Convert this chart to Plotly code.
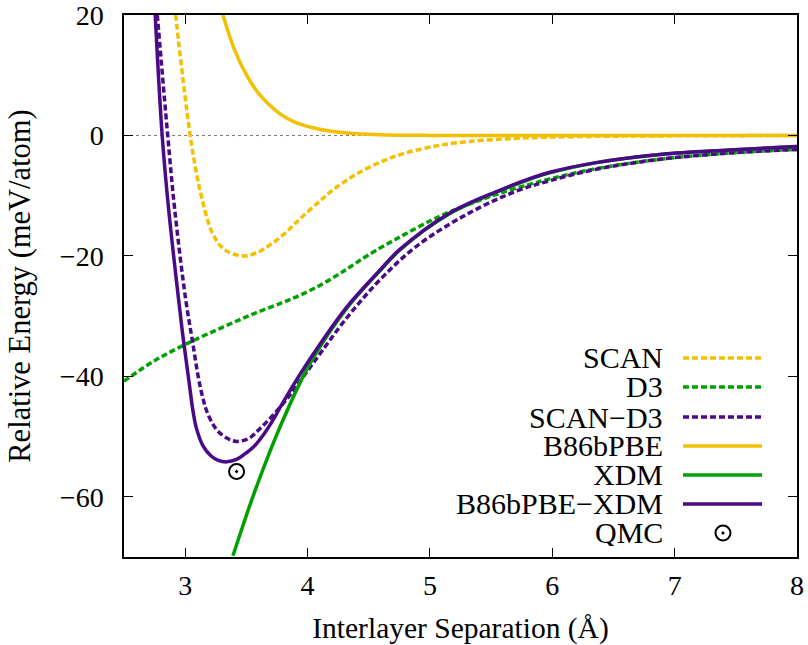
import plotly.graph_objects as go

# Interlayer binding curves (energy in meV/atom vs separation in Angstrom)
scan_x = [2.9225, 2.947, 3.0408, 3.09, 3.1387, 3.2202, 3.318, 3.473, 3.58, 3.69, 3.80, 3.88,
          3.94, 4.10, 4.21, 4.40, 4.62, 4.80, 5.02, 5.20, 5.43, 5.84, 6.30, 7.00, 8.00]
scan_y = [20.07, 15.42, 0.0, -6.0, -10.6, -16.1, -18.9, -20.0, -19.5, -18.2, -16.5, -15.0,
          -13.8, -10.9, -9.0, -6.4, -4.2, -2.9, -1.85, -1.25, -0.8, -0.35, -0.15, -0.05, 0.0]

d3_x = [2.50, 2.75, 3.01, 3.30, 3.56, 3.80, 3.94, 4.10, 4.25, 4.35, 4.50, 4.75, 5.00, 5.16,
        5.40, 5.57, 5.80, 5.98, 6.36, 6.90, 7.45, 8.00]
d3_y = [-40.8, -37.4, -34.6, -31.9, -29.6, -27.7, -26.5, -24.9, -23.1, -21.8, -19.8, -16.9, -14.2, -12.7,
        -10.8, -9.6, -8.2, -7.2, -5.5, -3.9, -2.9, -2.3]

scand3_x = [2.772, 2.8573, 2.9144, 3.004, 3.061, 3.1101, 3.1468, 3.1794, 3.2529, 3.34, 3.42, 3.52,
            3.61, 3.72, 3.83, 3.91, 4.05, 4.32, 4.59, 4.89, 5.30, 5.71, 5.98, 6.36, 6.90, 7.45, 8.00]
scand3_y = [20.07, 0.0, -12.27, -27.2, -34.33, -40.46, -43.78, -45.94, -48.76, -50.25, -50.8, -50.3,
            -48.7, -46.4, -43.8, -41.6, -37.7, -30.3, -24.0, -18.4, -13.1, -9.2, -7.5, -5.6, -3.9, -2.9, -2.3]

b86_x = [3.27, 3.31, 3.40, 3.50, 3.60, 3.775, 3.90, 4.044, 4.18, 4.32, 4.59, 5.00, 6.00, 7.00, 8.00]
b86_y = [23.5, 20.0, 14.4, 10.1, 7.0, 3.6, 2.2, 1.3, 0.75, 0.42, 0.14, 0.02, 0.0, 0.0, 0.0]

xdm_x = [3.39, 3.47, 3.56, 3.71, 3.775, 3.94, 4.05, 4.32, 4.59, 4.75, 5.16, 5.57, 5.81,
         5.98, 6.36, 6.90, 7.45, 8.00]
xdm_y = [-69.8, -64.9, -59.6, -51.6, -48.4, -41.0, -36.8, -28.7, -22.5, -19.1, -13.0, -9.2, -7.3,
         -6.2, -4.5, -3.1, -2.4, -1.8]

b86xdm_x = [2.755, 2.812, 2.865, 2.946, 2.9878, 3.0285, 3.0653, 3.0938, 3.1468, 3.212, 3.27, 3.34,
            3.42, 3.50, 3.56, 3.65, 3.72, 3.775, 3.91, 4.05, 4.32, 4.59, 4.75, 5.16, 5.57, 5.81,
            5.98, 6.36, 6.90, 7.45, 8.00]
b86xdm_y = [20.07, 0.0, -12.27, -27.2, -34.33, -40.46, -45.94, -48.76, -51.58, -53.23, -53.95, -54.2,
            -53.8, -52.7, -51.7, -49.4, -47.2, -45.2, -40.6, -36.2, -28.5, -22.4, -19.0, -12.9, -9.1, -7.2,
            -6.1, -4.5, -3.1, -2.4, -1.8]

qmc_x = [3.42]
qmc_y = [-55.8]

YELLOW = "#f2c000"
GREEN = "#00a000"
PURPLE = "#4a0a88"
FONT = "Liberation Serif"
DASH = "6px,3px"

series = [
    ("SCAN", scan_x, scan_y, YELLOW, DASH),
    ("D3", d3_x, d3_y, GREEN, DASH),
    ("SCAN\u2212D3", scand3_x, scand3_y, PURPLE, DASH),
    ("B86bPBE", b86_x, b86_y, YELLOW, "solid"),
    ("XDM", xdm_x, xdm_y, GREEN, "solid"),
    ("B86bPBE\u2212XDM", b86xdm_x, b86xdm_y, PURPLE, "solid"),
]

fig = go.Figure()

for name, xs, ys, col, dash in series:
    fig.add_trace(go.Scatter(
        x=xs, y=ys, mode="lines", name=name, showlegend=False,
        line=dict(color=col, width=3.5, dash=dash, shape="spline", smoothing=1.0),
    ))

fig.add_trace(go.Scatter(
    x=qmc_x, y=qmc_y, mode="markers", name="QMC", showlegend=False,
    marker=dict(symbol="circle-open-dot", size=15, color="black", line=dict(width=2, color="black")),
))

# Key drawn gnuplot-style: right-aligned label, sample to its right
key_rows = [0.3672, 0.3137, 0.2583, 0.2048, 0.1513, 0.0978]
key_font = dict(family=FONT, size=30, color="black")
for (name, _, _, col, dash), ky in zip(series, key_rows):
    fig.add_trace(go.Scatter(
        x=[0.8306, 0.948], y=[ky, ky], mode="lines", xaxis="x2", yaxis="y2",
        showlegend=False, hoverinfo="skip",
        line=dict(color=col, width=3.5, dash=dash),
    ))
    fig.add_annotation(x=0.8039, y=ky, xref="paper", yref="paper", text=name,
                       showarrow=False, xanchor="right", yanchor="middle",
                       height=27, valign="middle", font=key_font)

qmc_row = 0.0443
fig.add_trace(go.Scatter(
    x=[0.890], y=[qmc_row], mode="markers", xaxis="x2", yaxis="y2",
    showlegend=False, hoverinfo="skip",
    marker=dict(symbol="circle-open-dot", size=15, color="black", line=dict(width=2, color="black")),
))
fig.add_annotation(x=0.8039, y=qmc_row, xref="paper", yref="paper", text="QMC",
                   showarrow=False, xanchor="right", yanchor="middle",
                   height=27, valign="middle", font=key_font)

# Dotted zero reference
fig.add_shape(type="line", xref="paper", yref="y", x0=0, x1=1, y0=0, y1=0,
              line=dict(color="#777777", width=1, dash="dot"), layer="below")

axis_common = dict(
    showline=True, linecolor="black", linewidth=1.5, mirror="ticks",
    ticks="inside", ticklen=9, tickwidth=1.2, tickcolor="black",
    showgrid=False, zeroline=False, automargin=False, ticklabeloverflow="allow",
    tickfont=dict(family=FONT, size=28, color="black"),
)

fig.update_layout(
    width=808, height=645,
    margin=dict(l=124, r=11, t=15, b=88),
    paper_bgcolor="white", plot_bgcolor="white",
    font=dict(family=FONT, size=28, color="black"),
    xaxis=dict(range=[2.5, 8.0001], tickvals=[3, 4, 5, 6, 7, 8], ticklabelstandoff=3,
               title=dict(text="Interlayer Separation (\u00c5)", font=dict(family=FONT, size=29.5),
                          standoff=17),
               **axis_common),
    yaxis=dict(range=[-70, 20.02], tickvals=[-60, -40, -20, 0, 20], ticklabelstandoff=13,
               title=dict(text="Relative Energy (meV/atom)", font=dict(family=FONT, size=30.5),
                          standoff=20),
               **axis_common),
    xaxis2=dict(overlaying="x", range=[0, 1], visible=False),
    yaxis2=dict(overlaying="y", range=[0, 1], visible=False),
)

fig.write_html("out.html")
